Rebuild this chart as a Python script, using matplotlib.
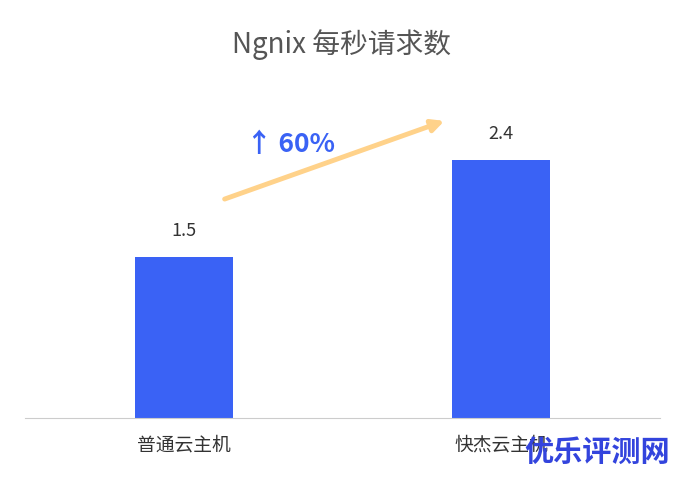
import matplotlib
matplotlib.use("Agg")
import matplotlib.pyplot as plt

plt.rcParams['font.family'] = ['Noto Sans CJK SC', 'DejaVu Sans']

categories = ["普通云主机", "快杰云主机"]
values = [1.5, 2.4]
title = "Ngnix 每秒请求数"
gain_label = "↑ 60%"

W, H = 683, 479
fig = plt.figure(figsize=(W / 100, H / 100), dpi=100)
ax = fig.add_axes([25 / W, 1 - 418 / H, 635 / W, 318 / H])

x = range(len(categories))
ax.bar(x, values, width=0.31, color="#3A62F5")
for xi, v in zip(x, values):
    ax.text(xi, v + 0.16, f"{v}", ha="center", va="bottom", fontsize=13, color="#333333")

ax.set_xlim(-0.5, 1.5)
ax.set_ylim(0, 2.96)
ax.set_xticks(list(x))
ax.set_xticklabels(categories, fontsize=13.5, color="#333333")
ax.tick_params(axis="x", length=0, pad=12)
ax.set_yticks([])
for s in ["top", "right", "left"]:
    ax.spines[s].set_visible(False)
ax.spines["bottom"].set_color("#cccccc")

fig.text(0.5, 1 - 45 / H, title, ha="center", va="center", fontsize=20, color="#555555")

# trend arrow
ax.annotate("", xy=(447 / W, 1 - 120 / H), xytext=(222 / W, 1 - 200 / H),
            xycoords="figure fraction", textcoords="figure fraction",
            arrowprops=dict(arrowstyle="-|>", color="#FFD28A", lw=3.5, mutation_scale=18))
fig.text(291 / W, 1 - 145 / H, gain_label, ha="center", va="center",
         fontsize=19, fontweight="bold", color="#3A62F5")

# watermark
fig.text(597 / W, 1 - 452 / H, "优乐评测网", ha="center", va="center",
         fontsize=21, fontweight="bold", color="#3344DD")

fig.savefig("out.png", dpi=100)
